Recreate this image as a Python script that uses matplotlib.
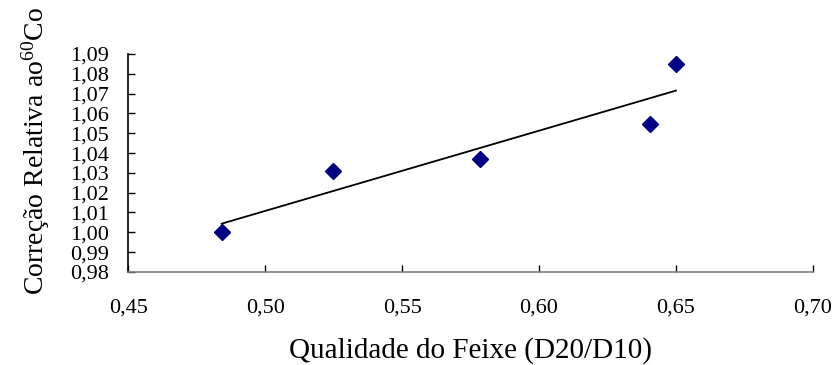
import numpy as np
import matplotlib
matplotlib.use("Agg")
import matplotlib.pyplot as plt
from matplotlib.ticker import FuncFormatter

plt.rcParams["font.family"] = ["Liberation Serif", "DejaVu Serif"]
plt.rcParams["mathtext.fontset"] = "custom"
plt.rcParams["mathtext.rm"] = "Liberation Serif"
plt.rcParams["mathtext.it"] = "Liberation Serif:italic"

# beam quality (D20/D10) vs correction relative to Co-60
quality = [0.4841, 0.5246, 0.5786, 0.6406, 0.6500]
correction = [1.000, 1.0307, 1.0370, 1.0545, 1.0848]

x_ticks = [0.45, 0.50, 0.55, 0.60, 0.65, 0.70]
y_ticks = [0.98, 0.99, 1.00, 1.01, 1.02, 1.03, 1.04, 1.05, 1.06, 1.07, 1.08, 1.09]

fig = plt.figure(figsize=(8.38, 3.65), dpi=100)
ax = fig.add_axes([0.153, 0.255, 0.817, 0.597])

# linear trend over the measured range
slope, icpt = np.polyfit(quality, correction, 1)
xs = np.array([min(quality), max(quality)])
ax.plot(xs, slope * xs + icpt, color="black", lw=1.3)

ax.plot(quality, correction, linestyle="none", marker="D", markersize=8,
        color="#000080", markeredgecolor="#000080")

ax.set_xlim(0.45, 0.70)
ax.set_ylim(0.98, 1.09)
ax.set_xticks(x_ticks)
ax.set_yticks(y_ticks)

comma = lambda fmt: FuncFormatter(lambda v, p: (fmt % v).replace(".", ","))
ax.xaxis.set_major_formatter(comma("%.2f"))
ax.yaxis.set_major_formatter(comma("%.2f"))

for s in ("top", "right"):
    ax.spines[s].set_visible(False)
ax.spines["left"].set_color("black")
ax.spines["bottom"].set_color("#808080")
ax.spines["left"].set_linewidth(1.2)
ax.spines["bottom"].set_linewidth(1.2)

ax.tick_params(axis="x", direction="in", length=5, width=1, pad=19,
               labelsize=16, color="black")
ax.tick_params(axis="y", direction="in", length=5, width=1, pad=14,
               labelsize=16, color="black")

ax.set_xlabel("Qualidade do Feixe (D20/D10)", fontsize=21, labelpad=14)
ax.set_ylabel(r"Correção Relativa ao$^{\mathrm{60}}$Co", fontsize=20)
ax.yaxis.set_label_coords(-0.112, 0.555)

fig.savefig("out.png", dpi=100)
